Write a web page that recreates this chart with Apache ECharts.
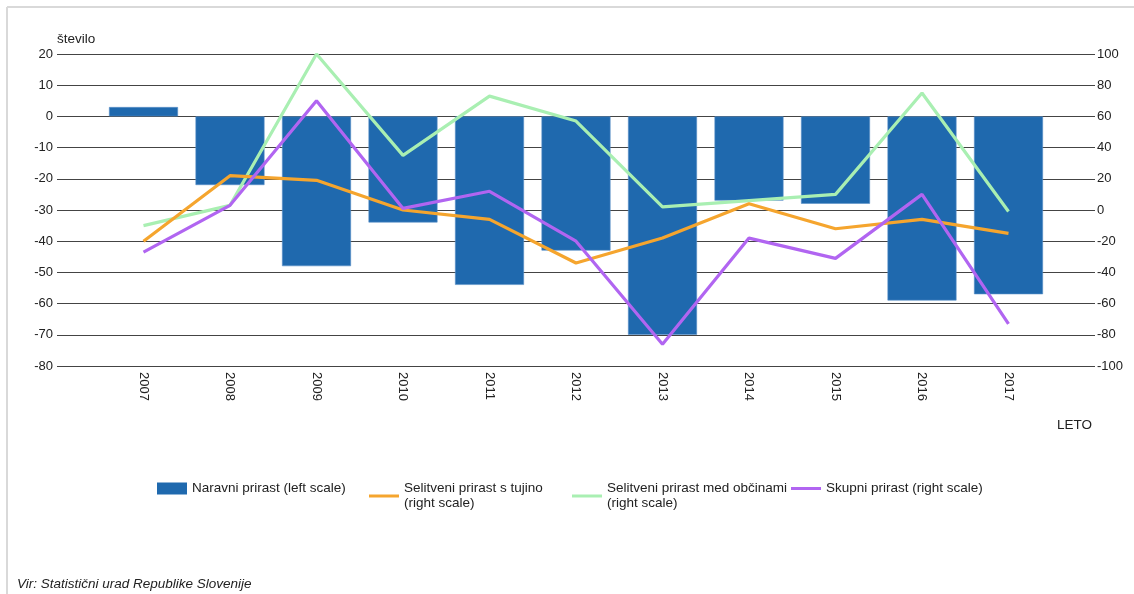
<!DOCTYPE html>
<html>
<head>
<meta charset="utf-8">
<title>Prirast prebivalstva</title>
<script src="https://cdn.jsdelivr.net/npm/echarts@6/dist/echarts.min.js"></script>
<style>
  html, body { margin: 0; padding: 0; background: #fff; }
  #chart { width: 1134px; height: 594px; }
</style>
</head>
<body>
<div id="chart"></div>
<script>
// Years on the horizontal axis
const years = ['2007', '2008', '2009', '2010', '2011', '2012', '2013', '2014', '2015', '2016', '2017'];

// Natural increase (left scale)
const naravniPrirast = [3, -22, -48, -34, -54, -43, -70, -27, -28, -59, -57];
// Net migration with foreign countries (right scale)
const selitveniTujina = [-20, 22, 19, 0, -6, -34, -18, 4, -12, -6, -15];
// Net migration between municipalities (right scale)
const selitveniObcine = [-10, 3, 100, 35, 73, 57, 2, 6, 10, 75, -1];
// Total increase (right scale)
const skupniPrirast = [-27, 3, 70, 1, 12, -20, -86, -18, -31, 10, -73];

// Axis ticks
const leftTicks = { min: -80, max: 20, interval: 10 };
const rightTicks = { min: -100, max: 100, interval: 20 };

const seriesNames = [
  'Naravni prirast (left scale)',
  'Selitveni prirast s tujino\n(right scale)',
  'Selitveni prirast med občinami\n(right scale)',
  'Skupni prirast (right scale)'
];

const FONT = "'Liberation Sans', Arial, sans-serif";
const pairs = arr => arr.map((v, i) => [i, v]);

const chart = echarts.init(document.getElementById('chart'), null, { renderer: 'canvas' });

const legendBase = {
  orient: 'horizontal',
  top: 481,
  padding: 0,
  itemGap: 0,
  itemWidth: 30,
  textStyle: { fontFamily: FONT, fontSize: 13.5, color: '#222', lineHeight: 15, padding: [0, 0, 0, 0] },
  selectedMode: false
};
// a flat 30x3 strip standing for a line in the legend
const lineIcon = 'rect';

chart.setOption({
  animation: false,
  backgroundColor: '#fff',
  textStyle: { fontFamily: FONT },
  grid: { left: 57, right: 39, top: 54, bottom: 228, containLabel: false },
  legend: [
    Object.assign({}, legendBase, { left: 157, itemHeight: 12, icon: 'rect',
      itemStyle: { borderWidth: 0 }, data: [seriesNames[0]] }),
    Object.assign({}, legendBase, { left: 369, itemHeight: 3, icon: lineIcon,
      itemStyle: { borderWidth: 0 }, data: [seriesNames[1]] }),
    Object.assign({}, legendBase, { left: 572, itemHeight: 3, icon: lineIcon,
      itemStyle: { borderWidth: 0 }, data: [seriesNames[2]] }),
    Object.assign({}, legendBase, { left: 791, itemHeight: 3, icon: lineIcon,
      itemStyle: { borderWidth: 0 }, data: [seriesNames[3]] })
  ],
  xAxis: {
    type: 'value',
    min: -1,
    max: 11,
    interval: 1,
    axisLine: { show: false },
    axisTick: { show: false },
    splitLine: { show: false },
    axisLabel: {
      rotate: -90,
      margin: 6,
      fontSize: 13,
      color: '#222',
      fontFamily: FONT,
      showMinLabel: false,
      showMaxLabel: false,
      formatter: v => (years[v] !== undefined ? years[v] : '')
    }
  },
  yAxis: [
    {
      type: 'value',
      position: 'left',
      min: leftTicks.min,
      max: leftTicks.max,
      interval: leftTicks.interval,
      axisLine: { show: false },
      axisTick: { show: false },
      axisLabel: { margin: 4, fontSize: 13, color: '#222', fontFamily: FONT },
      splitLine: { show: true, lineStyle: { color: '#444', width: 1.2 } }
    },
    {
      type: 'value',
      position: 'right',
      min: rightTicks.min,
      max: rightTicks.max,
      interval: rightTicks.interval,
      axisLine: { show: false },
      axisTick: { show: false },
      axisLabel: { margin: 2, fontSize: 13, color: '#222', fontFamily: FONT },
      splitLine: { show: false }
    }
  ],
  series: [
    {
      name: seriesNames[0],
      type: 'bar',
      yAxisIndex: 0,
      barWidth: 69,
      itemStyle: { color: '#1f69ae', borderColor: '#5a91c8', borderWidth: 0.6 },
      data: pairs(naravniPrirast),
      z: 2
    },
    {
      name: seriesNames[1],
      type: 'line',
      yAxisIndex: 1,
      symbol: 'none',
      lineStyle: { color: '#f5a52e', width: 3.2 },
      itemStyle: { color: '#f5a52e' },
      data: pairs(selitveniTujina),
      z: 4
    },
    {
      name: seriesNames[2],
      type: 'line',
      yAxisIndex: 1,
      symbol: 'none',
      lineStyle: { color: '#a9efb2', width: 3.2 },
      itemStyle: { color: '#a9efb2' },
      data: pairs(selitveniObcine),
      z: 3
    },
    {
      name: seriesNames[3],
      type: 'line',
      yAxisIndex: 1,
      symbol: 'none',
      lineStyle: { color: '#b165f1', width: 3.2 },
      itemStyle: { color: '#b165f1' },
      data: pairs(skupniPrirast),
      z: 5
    }
  ],
  graphic: [
    // frame
    { type: 'line', shape: { x1: 7, y1: 7, x2: 1134, y2: 7 }, style: { stroke: '#d9d9d9', lineWidth: 2 }, silent: true },
    { type: 'line', shape: { x1: 7, y1: 7, x2: 7, y2: 594 }, style: { stroke: '#d9d9d9', lineWidth: 2 }, silent: true },
    // axis titles
    { type: 'text', left: 57, top: 32, style: { text: 'število', font: '13.5px ' + FONT, fill: '#222' } },
    { type: 'text', left: 1057, top: 418, style: { text: 'LETO', font: '13.5px ' + FONT, fill: '#222' } },
    // source
    { type: 'text', left: 17, top: 577, style: { text: 'Vir: Statistični urad Republike Slovenije', font: 'italic 13.5px ' + FONT, fill: '#222' } }
  ]
});
</script>
</body>
</html>
